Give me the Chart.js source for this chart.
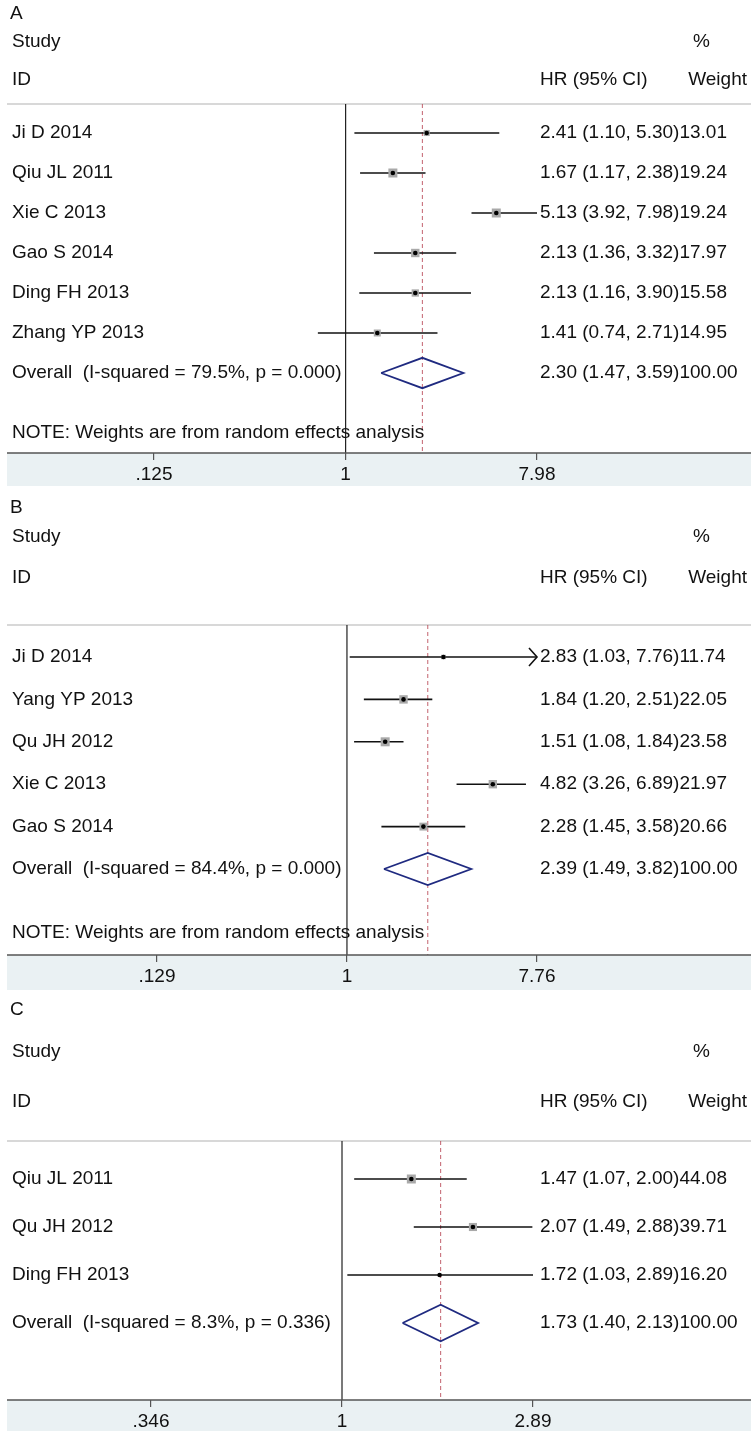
<!DOCTYPE html>
<html>
<head>
<meta charset="utf-8">
<script src="https://cdn.jsdelivr.net/npm/chart.js@4.4.0/dist/chart.umd.min.js"></script>
<style>
  html, body { margin: 0; padding: 0; background: #fff; }
  .panel { position: relative; width: 751px; }
  canvas { display: block; }
</style>
</head>
<body>
<div class="panel" style="height:486px"><canvas id="plotA"></canvas></div>
<div class="panel" style="height:504px"><canvas id="plotB"></canvas></div>
<div class="panel" style="height:441px"><canvas id="plotC"></canvas></div>
<script>
// Panel A
const studiesA = ["Ji D 2014", "Qiu JL 2011", "Xie C 2013", "Gao S 2014", "Ding FH 2013", "Zhang YP 2013"];
const hrA = [2.41, 1.67, 5.13, 2.13, 2.13, 1.41];
const lowA = [1.10, 1.17, 3.92, 1.36, 1.16, 0.74];
const highA = [5.30, 2.38, 7.98, 3.32, 3.90, 2.71];
const weightA = [13.01, 19.24, 19.24, 17.97, 15.58, 14.95];
const overallA = [2.30, 1.47, 3.59];
const hetA = ["79.5", "0.000"];
const ticksA = [0.125, 1, 7.98];
const tickLabelsA = [".125", "1", "7.98"];

// Panel B
const studiesB = ["Ji D 2014", "Yang YP 2013", "Qu JH 2012", "Xie C 2013", "Gao S 2014"];
const hrB = [2.83, 1.84, 1.51, 4.82, 2.28];
const lowB = [1.03, 1.20, 1.08, 3.26, 1.45];
const highB = [7.76, 2.51, 1.84, 6.89, 3.58];
const weightB = [11.74, 22.05, 23.58, 21.97, 20.66];
const overallB = [2.39, 1.49, 3.82];
const hetB = ["84.4", "0.000"];
const ticksB = [0.129, 1, 7.76];
const tickLabelsB = [".129", "1", "7.76"];
const arrowsB = [0]; // CI runs off the axis

// Panel C
const studiesC = ["Qiu JL 2011", "Qu JH 2012", "Ding FH 2013"];
const hrC = [1.47, 2.07, 1.72];
const lowC = [1.07, 1.49, 1.03];
const highC = [2.00, 2.88, 2.89];
const weightC = [44.08, 39.71, 16.20];
const overallC = [1.73, 1.40, 2.13];
const hetC = ["8.3", "0.336"];
const ticksC = [0.346, 1, 2.89];
const tickLabelsC = [".346", "1", "2.89"];

const FONT = '"Liberation Sans", Arial, sans-serif';
const NOTE = "NOTE: Weights are from random effects analysis";

function fmt(v) { return v.toFixed(2); }

// dessine le fond de l'axe, les textes et les flèches
const forestText = {
  id: "forestText",
  beforeDraw(chart, args, opts) {
    const { ctx, chartArea, width, height } = chart;
    ctx.save();
    ctx.fillStyle = "#eaf1f3";
    ctx.fillRect(7, chartArea.bottom, width - 7, height - chartArea.bottom);
    ctx.strokeStyle = "#d8d8d8";
    ctx.lineWidth = 2;
    ctx.beginPath();
    ctx.moveTo(7, chartArea.top);
    ctx.lineTo(width, chartArea.top);
    ctx.stroke();
    ctx.restore();
  },
  afterDatasetsDraw(chart, args, opts) {
    const d = opts.d;
    const ctx = chart.ctx;
    const xs = chart.scales.x, ys = chart.scales.y;
    ctx.save();
    ctx.strokeStyle = "#111";
    ctx.lineWidth = 1.6;
    (d.arrows || []).forEach((i) => {
      const x = xs.getPixelForValue(d.high[i]);
      const y = ys.getPixelForValue(i);
      ctx.beginPath();
      ctx.moveTo(x - 8, y - 9);
      ctx.lineTo(x, y);
      ctx.lineTo(x - 8, y + 9);
      ctx.stroke();
    });
    ctx.restore();
  },
  afterDraw(chart, args, opts) {
    const d = opts.d, L = opts.L;
    const { ctx, chartArea, width } = chart;
    const ys = chart.scales.y;
    ctx.save();
    // band top line
    ctx.strokeStyle = "#555";
    ctx.lineWidth = 1.5;
    ctx.beginPath();
    ctx.moveTo(7, chartArea.bottom);
    ctx.lineTo(width, chartArea.bottom);
    ctx.stroke();

    ctx.fillStyle = "#111";
    ctx.font = "19px " + FONT;
    ctx.textBaseline = "middle";
    ctx.textAlign = "left";
    ctx.fillText(d.letter, 10, L.letterY);
    ctx.fillText("Study", 12, L.studyY);
    ctx.fillText("%", 693, L.studyY);
    ctx.fillText("ID", 12, L.idY);
    ctx.fillText("HR (95% CI)", 540, L.idY);
    ctx.textAlign = "right";
    ctx.fillText("Weight", 747, L.idY);
    ctx.textAlign = "left";

    const rows = d.studies.map((s, i) => ({
      label: s,
      hr: fmt(d.hr[i]) + " (" + fmt(d.low[i]) + ", " + fmt(d.high[i]) + ")",
      w: fmt(d.weight[i]),
      row: i,
    }));
    rows.push({
      label: "Overall  (I-squared = " + d.het[0] + "%, p = " + d.het[1] + ")",
      hr: fmt(d.overall[0]) + " (" + fmt(d.overall[1]) + ", " + fmt(d.overall[2]) + ")",
      w: "100.00",
      row: d.studies.length,
    });
    rows.forEach((r) => {
      const y = ys.getPixelForValue(r.row);
      ctx.fillText(r.label, 12, y);
      ctx.fillText(r.hr, L.hrX, y);
      ctx.fillText(r.w, L.hrX + ctx.measureText(r.hr).width, y);
    });
    if (L.noteY) ctx.fillText(NOTE, 12, L.noteY);
    ctx.restore();
  },
};

function drawPanel(id, d, L) {
  const n = d.studies.length;
  const yMin = (L.sep - L.row0) / L.step;
  const yMax = (L.band - L.row0) / L.step;
  const wmax = Math.max(...d.weight);
  const [est, lo, hi] = d.overall;
  const h = 0.38;

  const datasets = [];
  // ligne de référence à 1
  datasets.push({
    data: [{ x: 1, y: yMin }, { x: 1, y: yMax }],
    showLine: true, borderColor: "#222", borderWidth: 1.2, pointRadius: 0, order: 6,
  });
  // effet global (pointillés)
  datasets.push({
    data: [{ x: est, y: yMin }, { x: est, y: yMax }],
    showLine: true, borderColor: "rgba(185,70,85,0.85)", borderWidth: 1,
    borderDash: [4, 3], pointRadius: 0, order: 5,
  });
  // intervalles de confiance
  d.studies.forEach((s, i) => {
    datasets.push({
      data: [{ x: d.low[i], y: i }, { x: d.high[i], y: i }],
      showLine: true, borderColor: "#111", borderWidth: 1.6, pointRadius: 0, order: 4,
    });
  });
  // carrés de poids
  datasets.push({
    data: d.hr.map((v, i) => ({ x: v, y: i })),
    pointStyle: "rect",
    pointRadius: d.weight.map((w) => Math.max(2, (9 * w) / wmax) / Math.SQRT2),
    backgroundColor: "#a9a9a9", borderWidth: 0, order: 3,
  });
  // diamant global
  datasets.push({
    data: [{ x: lo, y: n }, { x: est, y: n - h }, { x: hi, y: n }, { x: est, y: n + h }, { x: lo, y: n }],
    showLine: true, borderColor: "#1f2a80", borderWidth: 1.8, borderJoinStyle: "miter",
    pointRadius: 0, order: 2,
  });
  // points
  datasets.push({
    data: d.hr.map((v, i) => ({ x: v, y: i })),
    pointStyle: "circle", pointRadius: 2.3, backgroundColor: "#000", borderWidth: 0, order: 1,
  });

  new Chart(document.getElementById(id), {
    type: "scatter",
    data: { datasets: datasets },
    options: {
      responsive: true,
      maintainAspectRatio: false,
      animation: false,
      events: [],
      layout: { padding: { top: L.sep, left: L.left, right: 751 - L.right, bottom: 0 } },
      scales: {
        x: {
          type: "logarithmic",
          bounds: "data",
          min: d.ticks[0],
          max: d.ticks[d.ticks.length - 1],
          afterBuildTicks: (s) => {
            s.min = d.ticks[0];
            s.max = d.ticks[d.ticks.length - 1];
            s.ticks = d.ticks.map((v) => ({ value: v }));
          },
          afterFit: (s) => { s.height = L.height - L.band; },
          border: { display: false },
          grid: { drawOnChartArea: false, drawTicks: true, tickLength: 7, color: "#555", lineWidth: 1.2 },
          ticks: {
            autoSkip: false, maxRotation: 0, padding: 3, color: "#111",
            font: { family: FONT, size: 19 },
            callback: (v, i) => d.tickLabels[i],
          },
        },
        y: { type: "linear", display: false, reverse: true, min: yMin, max: yMax },
      },
      plugins: {
        legend: { display: false },
        tooltip: { enabled: false },
        forestText: { d: d, L: L },
      },
    },
    plugins: [forestText],
  });
}

drawPanel("plotA",
  { letter: "A", studies: studiesA, hr: hrA, low: lowA, high: highA, weight: weightA,
    overall: overallA, het: hetA, ticks: ticksA, tickLabels: tickLabelsA },
  { height: 486, letterY: 14, studyY: 42, idY: 80, sep: 104, row0: 133, step: 40,
    noteY: 433, band: 453, left: 154, right: 537, hrX: 540 });

drawPanel("plotB",
  { letter: "B", studies: studiesB, hr: hrB, low: lowB, high: highB, weight: weightB,
    overall: overallB, het: hetB, ticks: ticksB, tickLabels: tickLabelsB, arrows: arrowsB },
  { height: 504, letterY: 22, studyY: 51, idY: 92, sep: 139, row0: 171, step: 42.4,
    noteY: 447, band: 469, left: 157, right: 537, hrX: 540 });

drawPanel("plotC",
  { letter: "C", studies: studiesC, hr: hrC, low: lowC, high: highC, weight: weightC,
    overall: overallC, het: hetC, ticks: ticksC, tickLabels: tickLabelsC },
  { height: 441, letterY: 20, studyY: 62, idY: 112, sep: 151, row0: 189, step: 48,
    noteY: 0, band: 410, left: 151, right: 533, hrX: 540 });
</script>
</body>
</html>
